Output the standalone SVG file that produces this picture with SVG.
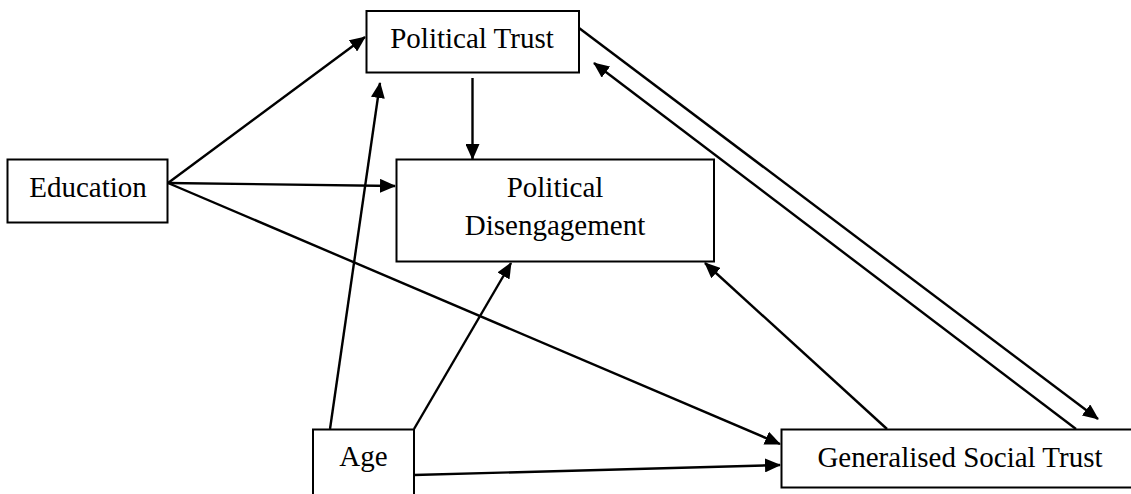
<svg xmlns="http://www.w3.org/2000/svg" width="1131" height="494" viewBox="0 0 1131 494">
<style>
.box{fill:#fff;stroke:#000;stroke-width:2}
.lbl{font-family:"Liberation Serif","Times New Roman",serif;font-size:29px;fill:#000;text-anchor:middle}
.conn line{stroke:#000;stroke-width:2.4;fill:none}
.arr{marker-end:url(#ah)}
</style>
<defs>
<marker id="ah" viewBox="0 0 16 14" refX="15" refY="7" markerWidth="16" markerHeight="14" markerUnits="userSpaceOnUse" orient="auto">
<path d="M0,0 L16,7 L0,14 z" fill="#000"/>
</marker>
</defs>
<rect width="1131" height="494" fill="#fff"/>
<g class="conn">
<line class="arr" x1="168" y1="183" x2="365" y2="37"/>
<line class="arr" x1="168" y1="183" x2="395" y2="186"/>
<line class="arr" x1="168" y1="183" x2="780" y2="444"/>
<line class="arr" x1="330" y1="429" x2="380" y2="83"/>
<line class="arr" x1="414" y1="429" x2="511" y2="263"/>
<line class="arr" x1="414" y1="475" x2="780" y2="465"/>
<line class="arr" x1="472.5" y1="78" x2="472.5" y2="159"/>
<line class="arr" x1="887" y1="429" x2="705" y2="263"/>
<line class="arr" x1="579" y1="28" x2="1098" y2="419"/>
<line class="arr" x1="1076" y1="429" x2="594" y2="63"/>
</g>
<g id="political-trust">
<rect class="box" x="366.5" y="11" width="212.5" height="61.5"/>
<text class="lbl" x="472" y="48">Political Trust</text>
</g>
<g id="education">
<rect class="box" x="7.5" y="159.5" width="160" height="63"/>
<text class="lbl" x="88" y="196.5">Education</text>
</g>
<g id="political-disengagement">
<rect class="box" x="396.5" y="159.5" width="317.5" height="102"/>
<text class="lbl" x="555" y="196.5">Political</text>
<text class="lbl" x="555" y="235">Disengagement</text>
</g>
<g id="age">
<rect class="box" x="313" y="429.5" width="101" height="80"/>
<text class="lbl" x="363.5" y="465.5">Age</text>
</g>
<g id="generalised-social-trust">
<rect class="box" x="781.5" y="429.5" width="370" height="58"/>
<text class="lbl" x="960" y="466.5">Generalised Social Trust</text>
</g>
</svg>
